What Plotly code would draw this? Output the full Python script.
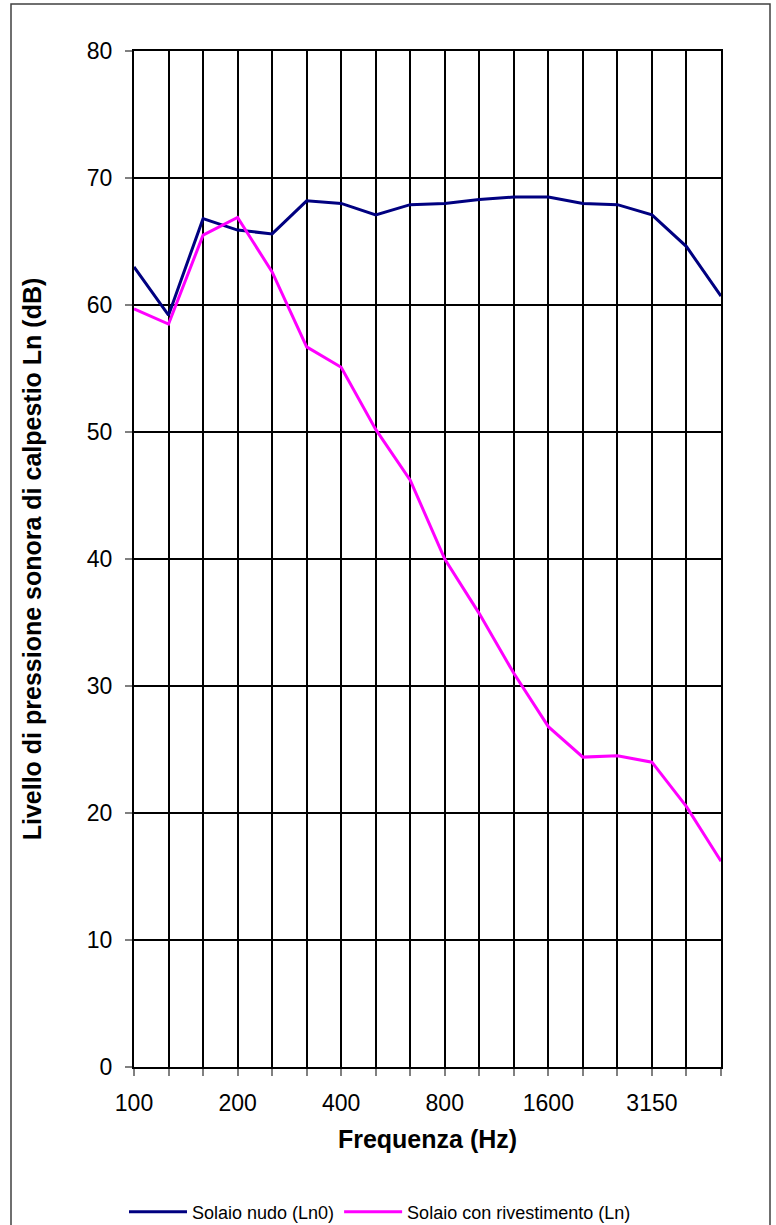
import plotly.graph_objects as go

frequencies = ["100", "125", "160", "200", "250", "315", "400", "500", "630",
               "800", "1000", "1250", "1600", "2000", "2500", "3150", "4000", "5000"]
ln0_values = [63.0, 59.2, 66.8, 65.9, 65.6, 68.2, 68.0, 67.1, 67.9,
              68.0, 68.3, 68.5, 68.5, 68.0, 67.9, 67.1, 64.6, 60.7]
ln_values = [59.7, 58.5, 65.5, 66.9, 62.6, 56.7, 55.1, 50.2, 46.2,
             40.0, 35.7, 31.0, 26.8, 24.4, 24.5, 24.0, 20.5, 16.2]
x_tick_labels = [f if i % 3 == 0 else "" for i, f in enumerate(frequencies)]
series_names = ["Solaio nudo (Ln0)", "Solaio con rivestimento (Ln)"]

W, H = 776, 1225
L, R, T, B = 134, 721, 51, 1067
PW, PH = R - L, B - T


def px_x(page_x):
    return (page_x - L) / PW


def px_y(page_y):
    return (B - page_y) / PH


fig = go.Figure()
fig.add_trace(go.Scatter(x=frequencies, y=ln0_values, mode="lines", name=series_names[0],
                         line=dict(color="#000080", width=3)))
fig.add_trace(go.Scatter(x=frequencies, y=ln_values, mode="lines", name=series_names[1],
                         line=dict(color="#FF00FF", width=3)))

font_family = "Liberation Sans, Arial, sans-serif"
fig.update_layout(
    width=W, height=H,
    margin=dict(l=L, r=W - R, t=T, b=H - B, pad=0, autoexpand=False),
    paper_bgcolor="white", plot_bgcolor="white",
    font=dict(family=font_family, color="black"),
    showlegend=True,
    legend=dict(orientation="h", x=px_x(124), xanchor="left",
                y=px_y(1212), yanchor="middle",
                font=dict(size=18),
                itemwidth=58, bgcolor="rgba(0,0,0,0)", tracegroupgap=0),
    xaxis=dict(type="category", range=[0, len(frequencies) - 1],
               tickmode="array", tickvals=frequencies, ticktext=x_tick_labels,
               showgrid=True, gridcolor="black", gridwidth=1.5,
               ticks="outside", ticklen=7, tickcolor="#808080", tickwidth=1.5,
               tickfont=dict(size=23), ticklabelstandoff=7,
               showline=True, linecolor="black", linewidth=2, mirror=True,
               title=dict(text="<b>Frequenza (Hz)</b>", font=dict(size=25), standoff=16),
               zeroline=False),
    yaxis=dict(range=[0, 80], dtick=10, tick0=0,
               showgrid=True, gridcolor="black", gridwidth=1.5,
               ticks="outside", ticklen=7, tickcolor="#808080", tickwidth=1.5,
               tickfont=dict(size=23), ticklabelstandoff=8,
               showline=True, linecolor="black", linewidth=2, mirror=True,
               title=dict(text="<b>Livello di pressione sonora di calpestio Ln (dB)</b>",
                          font=dict(size=25), standoff=38),
               zeroline=False),
    shapes=[dict(type="rect", xref="paper", yref="paper",
                 x0=px_x(11), x1=px_x(770),
                 y0=px_y(1260), y1=px_y(4),
                 line=dict(color="#404040", width=1.5), fillcolor="rgba(0,0,0,0)",
                 layer="below")],
)

fig.write_html("out.html", config={"displayModeBar": False},
               post_script="document.body.style.margin='0';")
